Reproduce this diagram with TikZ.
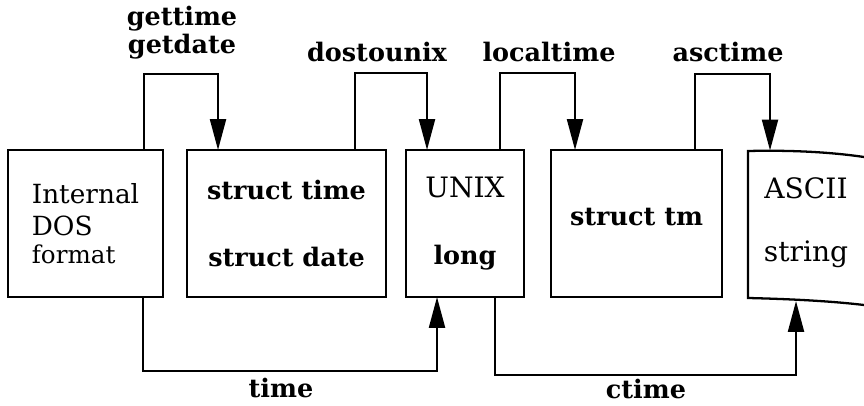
\documentclass[tikz,border=0pt]{standalone}
\usepackage{fontspec}
\setmainfont{DejaVu Serif}
\usetikzlibrary{arrows.meta}

\begin{document}
\begin{tikzpicture}[x=0.02cm,y=-0.02cm,
	box/.style={draw,line width=1.3pt,inner sep=0pt,outer sep=0pt,minimum height=2.94cm,align=center,font=\fontsize{16}{19}\selectfont},
	bbox/.style={box,font=\bfseries\fontsize{14.5}{17}\selectfont},
	vect/.style={line width=1.3pt,-{Triangle[length=0.62cm,width=0.32cm]}},
	lbl/.style={font=\bfseries\fontsize{14.5}{16}\selectfont,inner sep=0pt}]
		\useasboundingbox (0,0) rectangle (864,405);% picture size in pixels
		\node[box,minimum width=3.1cm,align=left,font=\fontsize{15}{18.5}\selectfont] (dos) at (85.5,223.5) {Internal\\DOS\\[-3pt]{\fontsize{14}{16}\selectfont format}};
		\node[bbox,minimum width=3.98cm] (tstr) at (286.5,223.5) {struct time\\[21.5pt]struct date};
		\node[box,minimum width=2.36cm] (unix) at (465,223.5) {UNIX\\[19pt]\textbf{\fontsize{14.5}{17}\selectfont long}};
		\node[bbox,minimum width=3.42cm,text depth=8pt] (tm) at (636.5,223.5) {struct tm};
		\node[font=\fontsize{16}{19}\selectfont,align=center,inner sep=0pt] (ascii) at (806,223) {ASCII\\[17pt]string};
		% the string box runs off the page
		\draw[line width=1.3pt] (864,157) .. controls (830,152) and (790,150) .. (748,151) -- (748,298) .. controls (790,299) and (830,301) .. (864,305);
		\coordinate (asct) at (770,150.5);
		\coordinate (ascb) at (796,301);
		% labels
		\node[lbl,align=center] (gt) at (182,33) {gettime\\getdate};
		\node[lbl,anchor=base] (d2u) at (377,62) {dostounix};
		\node[lbl,anchor=base] (lt) at (549,62) {localtime};
		\node[lbl,anchor=base] (asc) at (728,62) {asctime};
		\node[lbl,anchor=base] (tim) at (281,397) {time};
		\node[lbl,anchor=base] (ctim) at (646,398) {ctime};
		% conversions
		\draw[vect] ([xshift=1.17cm]dos.north) -- ++(0,-76) -| ([xshift=-1.37cm]tstr.north);
		\draw[vect] ([xshift=1.37cm]tstr.north) -- ++(0,-77) -| ([xshift=-0.76cm]unix.north);
		\draw[vect] ([xshift=0.7cm]unix.north) -- ++(0,-77) -| ([xshift=-1.23cm]tm.north);
		\draw[vect] ([xshift=1.17cm]tm.north) -- ++(0,-76) -| (asct);
		\draw[vect] ([xshift=1.15cm]dos.south) -- ++(0,74) -| ([xshift=-0.56cm]unix.south);
		\draw[vect] ([xshift=0.6cm]unix.south) -- ++(0,78) -| (ascb);
	\end{tikzpicture}
\end{document}
